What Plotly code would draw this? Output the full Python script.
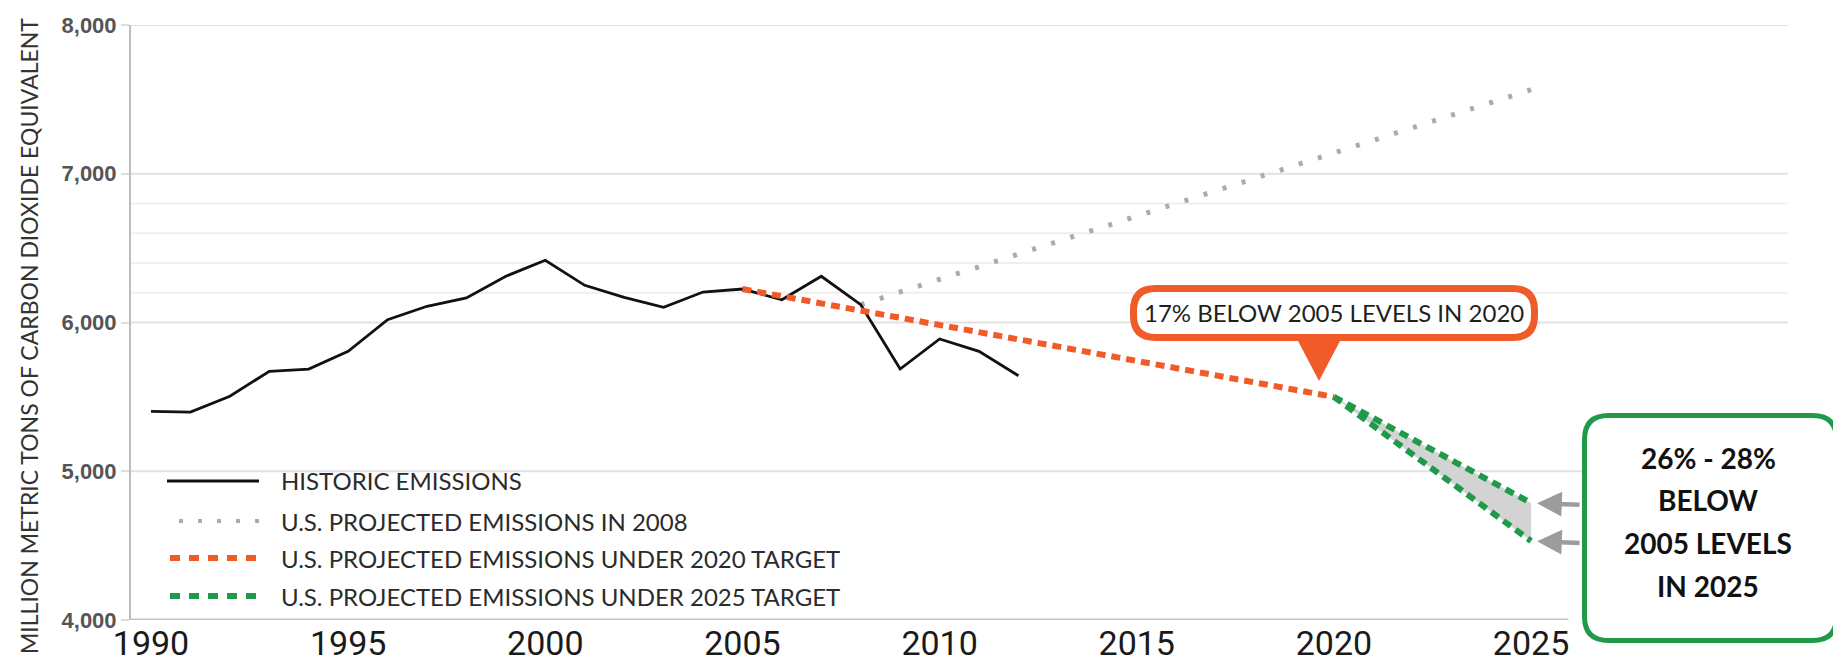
import plotly.graph_objects as go

# ---------------- data ----------------
hist_years = list(range(1990, 2013))
hist_values = [5403, 5398, 5504, 5672, 5687, 5806, 6019, 6109, 6165, 6311, 6418,
               6250, 6169, 6102, 6205, 6225, 6153, 6311, 6120, 5687, 5889, 5806, 5642]

proj2008_years = [2008, 2025]
proj2008_values = [6120, 7565]

target2020_years = [2005, 2020]
target2020_values = [6225, 5500]

target2025_years = [2020, 2025]
target2025_high = [5500, 4787]
target2025_low = [5500, 4531]

x_tick_years = [1990, 1995, 2000, 2005, 2010, 2015, 2020, 2025]
y_tick_values = [4000, 5000, 6000, 7000, 8000]
major_grid = [5000, 6000, 7000, 8000]
faint_grid = [6200, 6400, 6600, 6800]

legend_names = ["HISTORIC EMISSIONS",
                "U.S. PROJECTED EMISSIONS IN 2008",
                "U.S. PROJECTED EMISSIONS UNDER 2020 TARGET",
                "U.S. PROJECTED EMISSIONS UNDER 2025 TARGET"]
callout_2020 = "17% BELOW 2005 LEVELS IN 2020"
callout_2025_lines = ["26% - 28%", "BELOW", "2005 LEVELS", "IN 2025"]
y_title = "MILLION METRIC TONS OF CARBON DIOXIDE EQUIVALENT"

# ---------------- styling / layout ----------------
W, H = 1841, 663
L, R, T, B = 123, 61, 17, 51
PW, PH = W - L - R, H - T - B
PX_PER_YEAR = 39.43
X0 = 1990 - 20 / PX_PER_YEAR
X1 = X0 + PW / PX_PER_YEAR

ORANGE = "#F15A29"
GREEN = "#1E9A48"
DOTGRAY = "#ababab"
FILLGRAY = "#d3d3d3"
TEXT = "#2b2b2b"


def px(xp):
    return (xp - L) / PW


def py(yp):
    return (H - B - yp) / PH


def rrect_path(x0, y0, x1, y1, r):
    pts = [("M", [(x0 + r, y0)]), ("L", [(x1 - r, y0)]), ("Q", [(x1, y0), (x1, y0 + r)]),
           ("L", [(x1, y1 - r)]), ("Q", [(x1, y1), (x1 - r, y1)]), ("L", [(x0 + r, y1)]),
           ("Q", [(x0, y1), (x0, y1 - r)]), ("L", [(x0, y0 + r)]), ("Q", [(x0, y0), (x0 + r, y0)])]
    s = ""
    for cmd, ps in pts:
        s += cmd + " " + " ".join(f"{px(a):.5f},{py(b):.5f}" for a, b in ps) + " "
    return s + "Z"


fig = go.Figure()

# shaded band between the two 2025 target lines
fig.add_trace(go.Scatter(
    x=target2025_years + target2025_years[::-1][:1] + target2025_years[:1],
    y=target2025_high + target2025_low[-1:] + target2025_low[:1],
    fill="toself", fillcolor=FILLGRAY, line=dict(width=0), mode="lines",
    hoverinfo="skip"))

fig.add_trace(go.Scatter(x=proj2008_years, y=proj2008_values, mode="lines",
                         line=dict(color=DOTGRAY, width=5, dash="4px,16px"),
                         name=legend_names[1]))
fig.add_trace(go.Scatter(x=hist_years, y=hist_values, mode="lines",
                         line=dict(color="#111111", width=2.8), name=legend_names[0]))
fig.add_trace(go.Scatter(x=target2020_years, y=target2020_values, mode="lines",
                         line=dict(color=ORANGE, width=6, dash="9px,6px"),
                         name=legend_names[2]))
fig.add_trace(go.Scatter(x=target2025_years, y=target2025_high, mode="lines",
                         line=dict(color=GREEN, width=6, dash="9px,6px"),
                         name=legend_names[3]))
fig.add_trace(go.Scatter(x=target2025_years, y=target2025_low, mode="lines",
                         line=dict(color=GREEN, width=6, dash="9px,6px"),
                         name=legend_names[3]))

shapes = []
for v in major_grid:
    shapes.append(dict(type="line", xref="paper", yref="y", x0=0, x1=1, y0=v, y1=v,
                       line=dict(color="#e2e2e2", width=2), layer="below"))
for v in faint_grid:
    shapes.append(dict(type="line", xref="paper", yref="y", x0=0, x1=1, y0=v, y1=v,
                       line=dict(color="#efefef", width=2), layer="below"))
# baseline (x axis) ends just past 2025
shapes.append(dict(type="line", xref="x", yref="y", x0=X0, x1=2025.95,
                   y0=y_tick_values[0], y1=y_tick_values[0],
                   line=dict(color="#c4c4c4", width=3), layer="below"))

# orange callout box + pointer
shapes.append(dict(type="path", xref="paper", yref="paper",
                   path=rrect_path(1125.5, 280.5, 1526.5, 329.5, 22),
                   fillcolor="white", line=dict(color=ORANGE, width=7), layer="above"))
shapes.append(dict(type="path", xref="paper", yref="paper",
                   path=f"M {px(1289):.5f},{py(331):.5f} L {px(1333):.5f},{py(331):.5f} "
                        f"L {px(1311):.5f},{py(373):.5f} Z",
                   fillcolor=ORANGE, line=dict(width=0), layer="above"))
# green callout box
shapes.append(dict(type="path", xref="paper", yref="paper",
                   path=rrect_path(1576.5, 407.5, 1828.5, 632.5, 24),
                   fillcolor="white", line=dict(color=GREEN, width=5), layer="above"))

# manual legend samples
legend_rows = [473, 513, 550, 588]
shapes.append(dict(type="line", xref="paper", yref="paper", x0=px(159), x1=px(251),
                   y0=py(legend_rows[0]), y1=py(legend_rows[0]),
                   line=dict(color="#111111", width=2.8)))
shapes.append(dict(type="line", xref="paper", yref="paper", x0=px(171), x1=px(253),
                   y0=py(legend_rows[1]), y1=py(legend_rows[1]),
                   line=dict(color=DOTGRAY, width=4, dash="4px,15px")))
shapes.append(dict(type="line", xref="paper", yref="paper", x0=px(162), x1=px(250),
                   y0=py(legend_rows[2]), y1=py(legend_rows[2]),
                   line=dict(color=ORANGE, width=6, dash="10px,9px")))
shapes.append(dict(type="line", xref="paper", yref="paper", x0=px(162), x1=px(250),
                   y0=py(legend_rows[3]), y1=py(legend_rows[3]),
                   line=dict(color=GREEN, width=6, dash="10px,9px")))

annotations = []
for name, row in zip(legend_names, legend_rows):
    annotations.append(dict(text=name, xref="paper", yref="paper", x=px(271), y=py(row),
                            xanchor="left", yanchor="middle", showarrow=False,
                            font=dict(family="Lato", size=24, color=TEXT)))
annotations.append(dict(text=callout_2020, xref="paper", yref="paper",
                        x=px(1326), y=py(305), xanchor="center", yanchor="middle",
                        showarrow=False, font=dict(family="Lato", size=24, color="#1f1f1f")))
for line_text, yline in zip(callout_2025_lines, [450, 492, 535, 578]):
    annotations.append(dict(text="<b>" + line_text + "</b>", xref="paper", yref="paper",
                            x=px(1700), y=py(yline), xanchor="center", yanchor="middle",
                            showarrow=False,
                            font=dict(family="Lato", size=28, color="#111111")))
annotations.append(dict(text=y_title, xref="paper", yref="paper", x=px(21), y=py(328),
                        xanchor="center", yanchor="middle", textangle=-90, showarrow=False,
                        font=dict(family="Lato", size=23, color="#333333")))
# arrows pointing at the two 2025 target values
for val in (target2025_high[-1], target2025_low[-1]):
    annotations.append(dict(text="", x=target2025_years[-1], y=val, xref="x", yref="y",
                            showarrow=True, ax=50, ay=2, axref="pixel", ayref="pixel",
                            arrowhead=2, arrowsize=1.1, arrowwidth=4.5,
                            arrowcolor="#9c9c9c", standoff=6))

fig.update_layout(
    width=W, height=H, margin=dict(l=L, r=R, t=T, b=B, autoexpand=False),
    paper_bgcolor="white", plot_bgcolor="white", showlegend=False,
    shapes=shapes, annotations=annotations,
    xaxis=dict(range=[X0, X1], tickvals=x_tick_years,
               ticktext=[str(y) for y in x_tick_years],
               showgrid=False, zeroline=False, showline=False, ticks="",
               automargin=False,
               tickfont=dict(family="Roboto", size=34, color="#1a1a1a")),
    yaxis=dict(range=[y_tick_values[0], y_tick_values[-1]], tickvals=y_tick_values,
               tickformat=",d", showgrid=False, zeroline=False, automargin=False,
               showline=True, linecolor="#bdbdbd", linewidth=2,
               ticks="outside", ticklen=8, tickwidth=2, tickcolor="#dddddd",
               tickfont=dict(family="Liberation Sans", size=22, color="#555555",
                             weight="bold")),
)

fig.write_html("out.html", config={"displayModeBar": False})
